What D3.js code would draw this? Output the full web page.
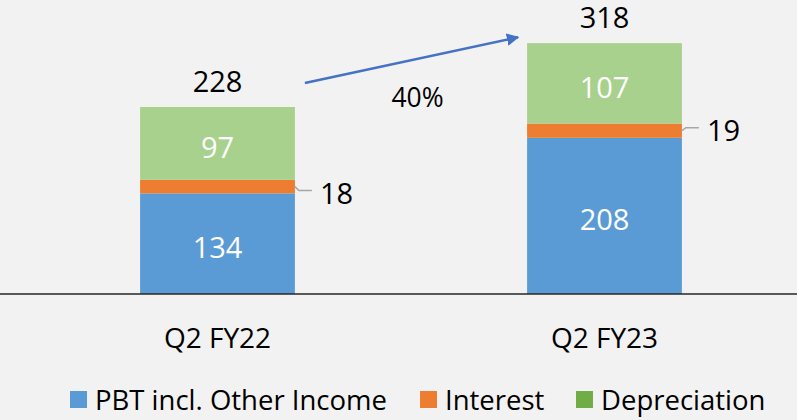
<!DOCTYPE html>
<html><head><meta charset="utf-8">
<script src="https://cdn.jsdelivr.net/npm/d3@7"></script>
<style>
html,body{margin:0;padding:0;background:#F2F2F2;}
svg{display:block;font-family:"Open Sans","Noto Sans",sans-serif;}
</style></head>
<body><svg id="c" width="797" height="420"></svg>
<script>
const categories = ["Q2 FY22", "Q2 FY23"];
const seriesNames = ["PBT incl. Other Income", "Interest", "Depreciation"];
const pbt = [134, 208];
const interest = [18, 19];
const depreciation = [97, 107];
const totals = [228, 318];
const growthLabel = "40%";
const barColors = ["#5B9BD5", "#ED7D31", "#A9D18E"];
const legendColors = ["#5B9BD5", "#ED7D31", "#70AD47"];

const svg = d3.select("#c");
const W = 797, H = 420;
const x = d3.scaleBand().domain(categories).range([24, 798]).paddingInner(0.6).paddingOuter(0.3);
const y = d3.scaleLinear().domain([0, 350]).range([294, 294 - 350 * 0.751]);

const rows = categories.map((c, i) => ({cat: c, pbt: pbt[i], interest: interest[i], depreciation: depreciation[i]}));
const keys = ["pbt", "interest", "depreciation"];
const stacked = d3.stack().keys(keys)(rows);

const g = svg.append("g");
stacked.forEach((s, si) => {
  g.selectAll(null).data(s).enter().append("rect")
    .attr("x", d => x(d.data.cat))
    .attr("width", x.bandwidth())
    .attr("y", d => y(d[1]))
    .attr("height", d => y(d[0]) - y(d[1]))
    .attr("fill", barColors[si]);
});

// inside labels (pbt and depreciation)
[0, 2].forEach(si => {
  g.selectAll(null).data(stacked[si]).enter().append("text")
    .attr("x", d => x(d.data.cat) + x.bandwidth() / 2)
    .attr("y", d => (y(d[0]) + y(d[1])) / 2 + 3)
    .attr("text-anchor", "middle").attr("dominant-baseline", "central")
    .attr("fill", "#fff").attr("font-size", 29)
    .text(d => d[1] - d[0]);
});

// interest labels with leader lines
stacked[1].forEach((d, i) => {
  const xr = x(d.data.cat) + x.bandwidth();
  const ym = (y(d[0]) + y(d[1])) / 2;
  const ly = i === 0 ? ym + 4 : ym - 3;
  g.append("path")
    .attr("d", `M${xr},${ym} L${xr + 4},${ly} L${xr + 17},${ly}`)
    .attr("fill", "none").attr("stroke", "#A6A6A6").attr("stroke-width", 1.5);
  g.append("text")
    .attr("x", xr + 25).attr("y", ly + 2)
    .attr("dominant-baseline", "central")
    .attr("fill", "#000").attr("font-size", 29)
    .text(d[1] - d[0]);
});

// totals
const tops = stacked[2];
tops.forEach((d, i) => {
  g.append("text")
    .attr("x", x(d.data.cat) + x.bandwidth() / 2)
    .attr("y", y(d[1]) - 15)
    .attr("text-anchor", "middle")
    .attr("fill", "#000").attr("font-size", 29)
    .text(totals[i]);
});

// axis
const axisG = svg.append("g").attr("transform", `translate(0,${y(0)})`);
axisG.append("line").attr("x1", 0).attr("x2", W).attr("y1", 0).attr("y2", 0)
  .attr("stroke", "#262626").attr("stroke-width", 1.5);
const ax = d3.axisBottom(x).tickSize(0).tickPadding(0);
const axG2 = svg.append("g").attr("transform", `translate(0,${y(0)})`).call(ax);
axG2.select(".domain").remove();
axG2.selectAll("text").attr("font-size", 28).attr("fill", "#000")
  .attr("font-family", "'Open Sans','Noto Sans',sans-serif")
  .attr("dy", null).attr("y", 43).attr("dominant-baseline", "central");

// growth arrow
const defs = svg.append("defs");
defs.append("marker").attr("id", "ah").attr("viewBox", "0 0 10 10")
  .attr("refX", 9).attr("refY", 5).attr("markerWidth", 5).attr("markerHeight", 5)
  .attr("orient", "auto").attr("markerUnits", "strokeWidth")
  .append("path").attr("d", "M0,0 L10,5 L0,10 z").attr("fill", "#4472C4");
const x1 = x(categories[0]) + x.bandwidth() + 10, y1 = y(tops[0][1]) - 24;
const x2 = x(categories[1]) - 9, y2 = y(tops[1][1]) - 6;
svg.append("line").attr("x1", x1).attr("y1", y1).attr("x2", x2).attr("y2", y2)
  .attr("stroke", "#4472C4").attr("stroke-width", 2.5).attr("marker-end", "url(#ah)");
svg.append("text").attr("x", (x1 + x2) / 2 + 6).attr("y", 97)
  .attr("text-anchor", "middle").attr("dominant-baseline", "central")
  .attr("font-size", 26.5).attr("fill", "#000").text(growthLabel);

// legend
const legendX = [70, 420, 576];
const lg = svg.append("g");
seriesNames.forEach((n, i) => {
  lg.append("rect").attr("x", legendX[i]).attr("y", 391).attr("width", 17).attr("height", 17)
    .attr("fill", legendColors[i]);
  lg.append("text").attr("x", legendX[i] + 25).attr("y", 399)
    .attr("dominant-baseline", "central").attr("font-size", 27.5).attr("fill", "#000").text(n);
});
</script></body></html>
